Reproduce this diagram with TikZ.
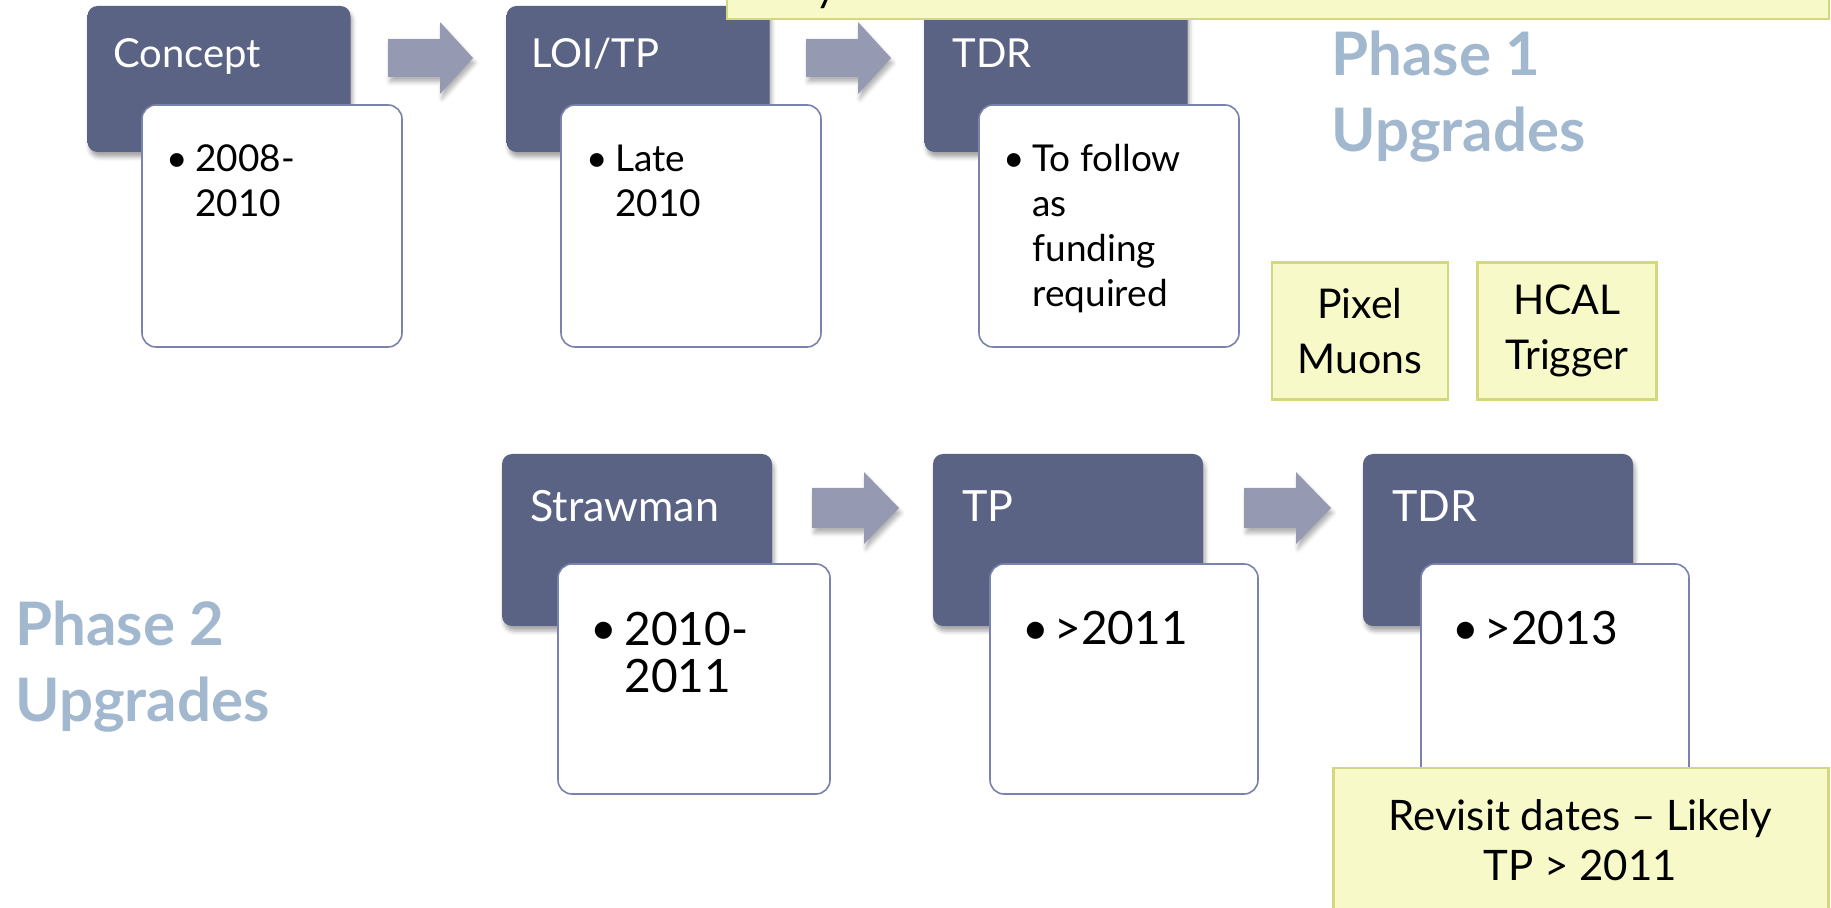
\documentclass[tikz,border=0pt]{standalone}
\usepackage{fontspec}
\setmainfont{Lato}
\usepackage{tikz}
\usetikzlibrary{shadows.blur}

\definecolor{stagemid}{HTML}{6E7BAA}
\definecolor{stageside}{HTML}{5A6384}
\definecolor{cardedge}{HTML}{7A83AD}
\definecolor{arrowside}{HTML}{9599B2}
\definecolor{arrowmid}{HTML}{BABED0}
\definecolor{notefill}{HTML}{F3F7A6}
\definecolor{notelight}{HTML}{F7F9C8}
\definecolor{noteedge}{HTML}{D3D77D}
\definecolor{phasecol}{HTML}{A2B8CF}

\begin{document}
\begin{tikzpicture}[x=0.5pt, y=-0.5pt,
	stage/.style = {rounded corners=5pt, left color=stageside, middle color=stagemid, right color=stageside, blur shadow={shadow xshift=1pt, shadow yshift=-2.5pt, shadow opacity=35}, inner sep=0pt},
	card/.style = {draw=cardedge, line width=0.8pt, fill=white, rounded corners=7pt, inner sep=0pt},
	flow/.style = {left color=arrowside, middle color=arrowmid, right color=arrowside, blur shadow={shadow xshift=1pt, shadow yshift=-2.5pt, shadow opacity=30}},
	head/.style = {anchor=base west, inner sep=0pt, text=white, font=\fontsize{20}{23}\selectfont},
	bighead/.style = {anchor=base west, inner sep=0pt, text=white, font=\fontsize{21.5}{23}\selectfont},
	item/.style = {anchor=base west, inner sep=0pt, align=left, font=\fontsize{18.5}{22.5}\selectfont},
	bigitem/.style = {anchor=base west, inner sep=0pt, align=left, font=\fontsize{23}{23.5}\selectfont},
	note/.style = {draw=noteedge, line width=1.4pt, left color=notelight, middle color=notefill, right color=notelight, inner sep=0pt, align=center, font=\fontsize{20.5}{27.5}\selectfont},
	notetext/.style = {anchor=base, inner sep=0pt, align=center, font=\fontsize{21}{25}\selectfont},
	phase/.style = {anchor=base west, inner sep=0pt, align=left, text=phasecol, font=\fontsize{30}{38}\selectfont\bfseries}]

	\useasboundingbox (0,0) rectangle (1831,908);

	% phase 1 row
	\node [stage, minimum width=131.5pt, minimum height=73pt] (1) at (219,79) {};
	\node [stage, minimum width=131.5pt, minimum height=73pt] (2) at (638,79) {};
	\node [stage, minimum width=131.5pt, minimum height=73pt] (3) at (1056,79) {};
	\node [card, minimum width=130pt, minimum height=121pt] (11) at (272,226) {};
	\node [card, minimum width=130pt, minimum height=121pt] (12) at (691,226) {};
	\node [card, minimum width=130pt, minimum height=121pt] (13) at (1109,226) {};

	\path[flow] (388,39) -- (440,39) -- (440,22) -- (473,58) -- (440,94) -- (440,77) -- (388,77) -- cycle;
	\path[flow] (806,39) -- (858,39) -- (858,22) -- (891,58) -- (858,94) -- (858,77) -- (806,77) -- cycle;

	\node [head] (21) at (113,68) {Concept};
	\node [head] (22) at (531,68) {LOI/TP};
	\node [head] (23) at (952,68) {TDR};
	\node [item] (31) at (166,172) {\textbullet};
	\node [item] (41) at (195,217) {2008-\\2010};
	\node [item] (32) at (586,172) {\textbullet};
	\node [item] (42) at (615,217) {Late\\2010};
	\node [item] (33) at (1003,172) {\textbullet};
	\node [item] (43) at (1032,307) {To follow\\as\\funding\\required};

	% phase 2 row
	\node [stage, minimum width=135pt, minimum height=86pt] (4) at (637,540) {};
	\node [stage, minimum width=135pt, minimum height=86pt] (5) at (1068,540) {};
	\node [stage, minimum width=135pt, minimum height=86pt] (6) at (1498,540) {};
	\node [card, minimum width=136pt, minimum height=115pt] (14) at (694,679) {};
	\node [card, minimum width=134pt, minimum height=115pt] (15) at (1124,679) {};
	\node [card, minimum width=134pt, minimum height=115pt] (16) at (1555,679) {};

	\path[flow] (812,488) -- (864,488) -- (864,472) -- (899,508) -- (864,544) -- (864,528) -- (812,528) -- cycle;
	\path[flow] (1244,488) -- (1296,488) -- (1296,472) -- (1331,508) -- (1296,544) -- (1296,528) -- (1244,528) -- cycle;

	\node [bighead] (24) at (530,522) {Strawman};
	\node [bighead] (25) at (962,522) {TP};
	\node [bighead] (26) at (1392,522) {TDR};
	\node [bigitem] (34) at (590,645) {\textbullet};
	\node [bigitem] (44) at (624,692) {2010-\\2011};
	\node [bigitem] (35) at (1022,645) {\textbullet};
	\node [bigitem] (45) at (1054,645) {>2011};
	\node [bigitem] (36) at (1452,645) {\textbullet};
	\node [bigitem] (46) at (1484,645) {>2013};

	% notes and headings
	\node [note, minimum width=551pt, minimum height=30pt] (7) at (1278,-11) {};
	\node [notetext] (8) at (826,2) {y};
	\node [note, minimum width=88pt, minimum height=68.5pt] (9) at (1360,331) {Pixel\\Muons};
	\node [note, minimum width=89.5pt, minimum height=68.5pt] (10) at (1567,331) {HCAL\\Trigger};
	\node [note, minimum width=247.5pt, minimum height=86pt] (17) at (1581,854) {};
	\node [notetext] (18) at (1580,880) {Revisit dates – Likely\\TP > 2011};

	\node [phase] (51) at (1331,152) {Phase 1\\Upgrades};
	\node [phase] (52) at (15,721) {Phase 2\\Upgrades};

\end{tikzpicture}
\end{document}
